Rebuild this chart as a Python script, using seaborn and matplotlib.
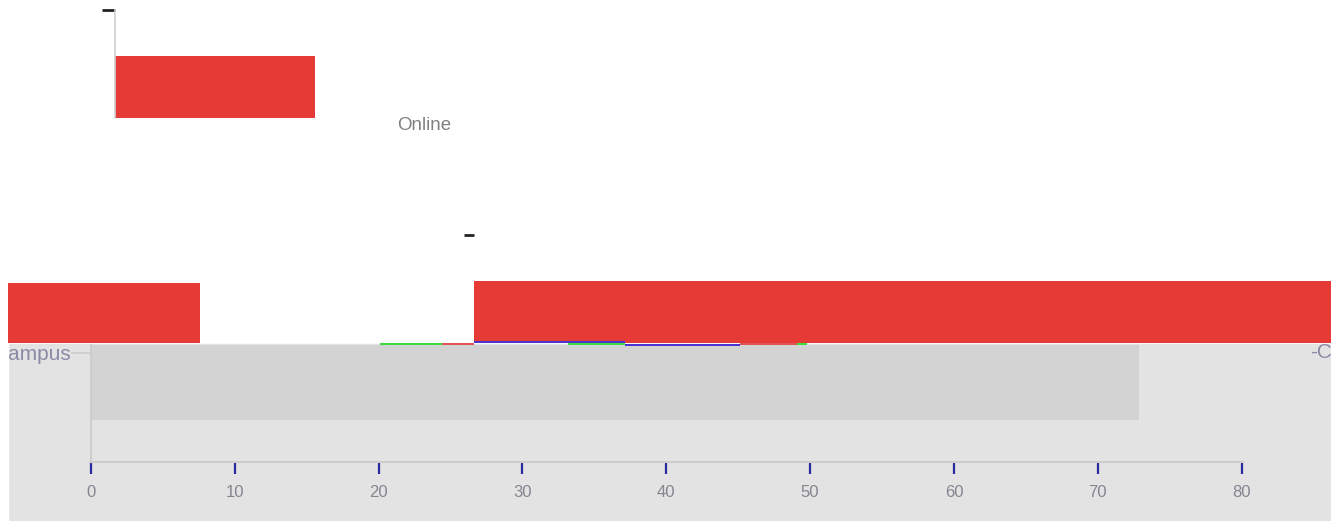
import matplotlib
matplotlib.use("Agg")
import matplotlib.pyplot as plt
import seaborn as sns
from matplotlib.patches import Rectangle

# data
campus_cats = ["Campus"]
campus_vals = [72.9]
online_cats = ["Online"]
online_vals = [13.9]
mid_cats = ["Online"]
mid_vals = [62.0]
left_bar_start = [-6.0]
left_bar_end = [7.6]
seg_start = [20.1, 24.4, 26.6, 33.1, 37.1, 45.1, 49.0]
seg_end = [24.4, 26.6, 37.1, 37.1, 45.1, 49.0, 49.7]
x_ticks = [0, 10, 20, 30, 40, 50, 60, 70, 80]

# styles
RED = "#e53a36"
BAR_GREY = "#d3d3d3"
BG_GREY = "#e3e3e3"
SPINE = "#cdcdcd"
seg_colors = ["#3ddc3d", "#e05555", "#4a35d0", "#3ddc3d", "#4a35d0", "#e05555", "#3ddc3d"]
seg_lift_px = [0, 0, 2, 0, -1, 0, 0]

sns.set_style("white")
plt.rcParams["font.family"] = ["Liberation Sans", "DejaVu Sans"]

W, H = 1331, 521
PX_PER_UNIT = 14.4  # px per x-unit of the main axis


def rect(left, top, right, bottom):
    return [left / W, 1 - bottom / H, (right - left) / W, (bottom - top) / H]


fig = plt.figure(figsize=(W / 100, H / 100), dpi=100, facecolor="white")
fig.patches.append(Rectangle((8 / W, 0), 1 - 8 / W, (H - 344) / H,
                             transform=fig.transFigure, color=BG_GREY, zorder=-5))

# main chart (grey band)
ax = fig.add_axes(rect(91, 345, 1243, 462))
sns.barplot(x=campus_vals, y=campus_cats, orient="h", color=BAR_GREY,
            width=0.8, saturation=1, linewidth=0, ax=ax)
ax.set_facecolor("none")
ax.set_xlim(0, 80.1)
ax.set_ylim(0.848, -0.4)
ax.set_xticks(x_ticks, [str(t) for t in x_ticks])
ax.set_yticks([-0.315], campus_cats)
for s in ["top", "right"]:
    ax.spines[s].set_visible(False)
for s in ["left", "bottom"]:
    ax.spines[s].set_color(SPINE)
    ax.spines[s].set_linewidth(1.5)
ax.tick_params(axis="x", bottom=True, length=8.5, width=1.6, color="#2a2aa0", pad=8,
               labelsize=12, labelcolor="#858590", direction="out")
ax.tick_params(axis="y", left=True, length=14.4, width=1.2, color=SPINE, pad=0,
               labelsize=15, labelcolor="#8a8aa6")
ax.set_xlabel("")
ax.set_ylabel("")

# top fragment
ax_top = fig.add_axes(rect(115, 10, 1331, 118))
sns.barplot(x=online_vals, y=online_cats, orient="h", color=RED,
            width=0.8, saturation=1, linewidth=0, ax=ax_top)
ax_top.set_facecolor("none")
ax_top.set_xlim(0, (1331 - 115) / PX_PER_UNIT)
ax_top.set_ylim(0.4, -0.994)
ax_top.set_yticks([-0.994], [""])
ax_top.set_xticks([])
for s in ["top", "right", "bottom"]:
    ax_top.spines[s].set_visible(False)
ax_top.spines["left"].set_color("#d0d0d0")
ax_top.spines["left"].set_linewidth(1.2)
ax_top.tick_params(axis="y", left=True, length=9.5, width=2, color="#222222")
ax_top.text(21.5, -0.07, online_cats[0], transform=ax_top.get_xaxis_transform(),
            ha="center", va="center", fontsize=13.5, color="#808080")
ax_top.set_xlabel("")
ax_top.set_ylabel("")

# middle fragment
ax_mid = fig.add_axes(rect(474, 235, 1331, 343))
sns.barplot(x=mid_vals, y=mid_cats, orient="h", color=RED,
            width=0.8, saturation=1, linewidth=0, ax=ax_mid)
ax_mid.set_facecolor("none")
ax_mid.set_xlim(0, (1331 - 474) / PX_PER_UNIT)
ax_mid.set_ylim(0.4, -0.994)
ax_mid.set_yticks([-0.994], [""])
ax_mid.set_xticks([])
for s in ["top", "right", "bottom", "left"]:
    ax_mid.spines[s].set_visible(False)
ax_mid.tick_params(axis="y", left=True, length=7.5, width=2, pad=2, color="#222222")
ax_mid.set_xlabel("")
ax_mid.set_ylabel("")

# strip with left red bar and thin coloured segments
STRIP_TOP, STRIP_BOT = 270, 348
strip_h = STRIP_BOT - STRIP_TOP
ax_strip = fig.add_axes(rect(8, STRIP_TOP, 1331, STRIP_BOT))
ax_strip.set_facecolor("none")
ax_strip.set_xlim((8 - 91) / PX_PER_UNIT, (1331 - 91) / PX_PER_UNIT)
ax_strip.set_ylim(0, strip_h)
left_w = [e - s for s, e in zip(left_bar_start, left_bar_end)]
ax_strip.barh([(STRIP_BOT - 313)] * len(left_w), left_w, left=left_bar_start,
              height=60, color=RED, linewidth=0)
seg_w = [e - s for s, e in zip(seg_start, seg_end)]
ax_strip.barh([STRIP_BOT - 344 + lift for lift in seg_lift_px], seg_w,
              left=seg_start, height=2.8, color=seg_colors, linewidth=0)
ax_strip.axis("off")

# clipped fragments of labels
fig.text(1310 / W, 1 - 352 / H, "-Campus", fontsize=15, color="#8a8aa6",
         va="center", ha="left")
fig.patches.append(Rectangle((0, 0), 8 / W, (H - 344) / H,
                             transform=fig.transFigure, color="white", zorder=20))

fig.savefig("out.png", dpi=100)
